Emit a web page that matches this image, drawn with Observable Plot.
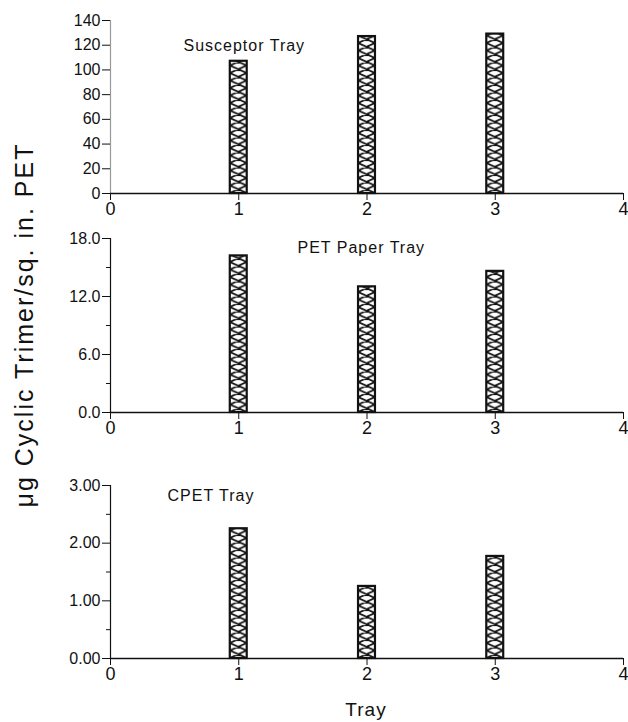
<!DOCTYPE html>
<html>
<head>
<meta charset="utf-8">
<script src="https://cdn.jsdelivr.net/npm/d3@7"></script>
<script src="https://cdn.jsdelivr.net/npm/@observablehq/plot@0.6"></script>
<style>
  html, body { margin: 0; padding: 0; background: #fff; }
  #chart { position: relative; width: 628px; height: 722px; background: #fff; font-family: "Liberation Sans", Arial, sans-serif; overflow: hidden; }
  #chart svg { position: absolute; left: 0; overflow: visible; background: transparent; }
  .ptitle { letter-spacing: 1px; }
  #ylabel { position: absolute; left: 24px; top: 325px; transform: translate(-50%, -50%) rotate(-90deg); font-size: 25px; white-space: nowrap; letter-spacing: 2px; color: #111; }
  #xlabel { position: absolute; left: 366px; top: 699px; transform: translateX(-50%); font-size: 19px; letter-spacing: 1px; color: #111; }
</style>
</head>
<body>
<div id="chart">
  <div id="ylabel">μg Cyclic Trimer/sq. in. PET</div>
  <div id="xlabel">Tray</div>
</div>
<script>
// ---- data ----
const trays = [1, 2, 3];
const susceptorValues = [107, 127, 129];
const petPaperValues = [16.2, 13.0, 14.6];
const cpetValues = [2.25, 1.25, 1.77];
const panelTitles = ["Susceptor Tray", "PET Paper Tray", "CPET Tray"];
const xTicks = [0, 1, 2, 3, 4];
const yTicksSusceptor = [0, 20, 40, 60, 80, 100, 120, 140];
const yTicksPetPaper = [0, 6, 12, 18];
const yMinorPetPaper = [3, 9, 15];
const yTicksCpet = [0, 1, 2, 3];
const yMinorCpet = [0.5, 1.5, 2.5];

const chart = document.getElementById("chart");
const barHalf = 0.066;
let patCount = 0;

function hatch(svg) {
  const ns = "http://www.w3.org/2000/svg";
  let defs = svg.querySelector("defs");
  if (!defs) { defs = document.createElementNS(ns, "defs"); svg.insertBefore(defs, svg.firstChild); }
  svg.querySelectorAll("g.bars rect").forEach(r => {
    const x = +r.getAttribute("x"), y = +r.getAttribute("y");
    const w = +r.getAttribute("width"), h = +r.getAttribute("height");
    const id = "hatch" + (patCount++);
    const ph = 7.5;
    const p = document.createElementNS(ns, "pattern");
    p.setAttribute("id", id);
    p.setAttribute("patternUnits", "userSpaceOnUse");
    p.setAttribute("x", x); p.setAttribute("y", y + h);
    p.setAttribute("width", w); p.setAttribute("height", ph);
    const bg = document.createElementNS(ns, "rect");
    bg.setAttribute("width", w); bg.setAttribute("height", ph); bg.setAttribute("fill", "#fff");
    p.appendChild(bg);
    const path = document.createElementNS(ns, "path");
    path.setAttribute("d", `M0,0L${w},${ph}M${w},0L0,${ph}M0,${-ph}L${w},0M${w},${-ph}L0,0M0,${ph}L${w},${2*ph}M${w},${ph}L0,${2*ph}`);
    path.setAttribute("stroke", "#111");
    path.setAttribute("stroke-width", 1.8);
    path.setAttribute("fill", "none");
    p.appendChild(path);
    defs.appendChild(p);
    r.setAttribute("fill", `url(#${id})`);
  });
}

function panel({values, title, top, marginTop, height, ymax, ticks, minor, fmt, titleDx, titleDy, axisColor}) {
  const data = trays.map((t, i) => ({tray: t, value: values[i]}));
  const svg = Plot.plot({
    width: 628, height, marginLeft: 110, marginRight: 5, marginTop, marginBottom: 30,
    style: {fontFamily: "Liberation Sans, Arial, sans-serif", fontSize: "16px", color: "#111", background: "transparent", overflow: "visible"},
    x: {type: "linear", domain: [0, 4]},
    y: {type: "linear", domain: [0, ymax]},
    marks: [
      Plot.rectY(data, {x1: d => d.tray - barHalf, x2: d => d.tray + barHalf, y1: 0, y2: "value", fill: "#fff", stroke: "#111", strokeWidth: 2.2, className: "bars"}),
      Plot.ruleX([0], {stroke: axisColor, strokeWidth: 1.2}),
      Plot.ruleY([0], {stroke: "#111", strokeWidth: 1.5}),
      Plot.axisY(ticks, {tickSize: 8, tickPadding: 2, tickFormat: fmt, label: null, fontSize: 16, stroke: "#111"}),
      minor ? Plot.axisY(minor, {tickSize: 4, tickFormat: () => "", label: null, stroke: "#111"}) : null,
      Plot.axisX(xTicks, {tickSize: 7, tickPadding: 2, tickFormat: d3.format("d"), label: null, fontSize: 18, stroke: "#111"}),
      Plot.text([title], {frameAnchor: "top-left", dx: titleDx, dy: titleDy, textAnchor: "start", lineAnchor: "middle", fontSize: 16, fill: "#111", className: "ptitle"})
    ].filter(Boolean)
  });
  svg.style.top = top + "px";
  hatch(svg);
  chart.appendChild(svg);
}

panel({values: susceptorValues, title: panelTitles[0], top: 0, marginTop: 20, height: 223, ymax: 140,
  ticks: yTicksSusceptor, minor: null, fmt: d3.format("d"), titleDx: 73, titleDy: 25, axisColor: "#999"});
panel({values: petPaperValues, title: panelTitles[1], top: 220, marginTop: 18, height: 222, ymax: 18,
  ticks: yTicksPetPaper, minor: yMinorPetPaper, fmt: d3.format(".1f"), titleDx: 187, titleDy: 9, axisColor: "#111"});
panel({values: cpetValues, title: panelTitles[2], top: 460, marginTop: 25, height: 228, ymax: 3,
  ticks: yTicksCpet, minor: yMinorCpet, fmt: d3.format(".2f"), titleDx: 57, titleDy: 10, axisColor: "#111"});
</script>
</body>
</html>
